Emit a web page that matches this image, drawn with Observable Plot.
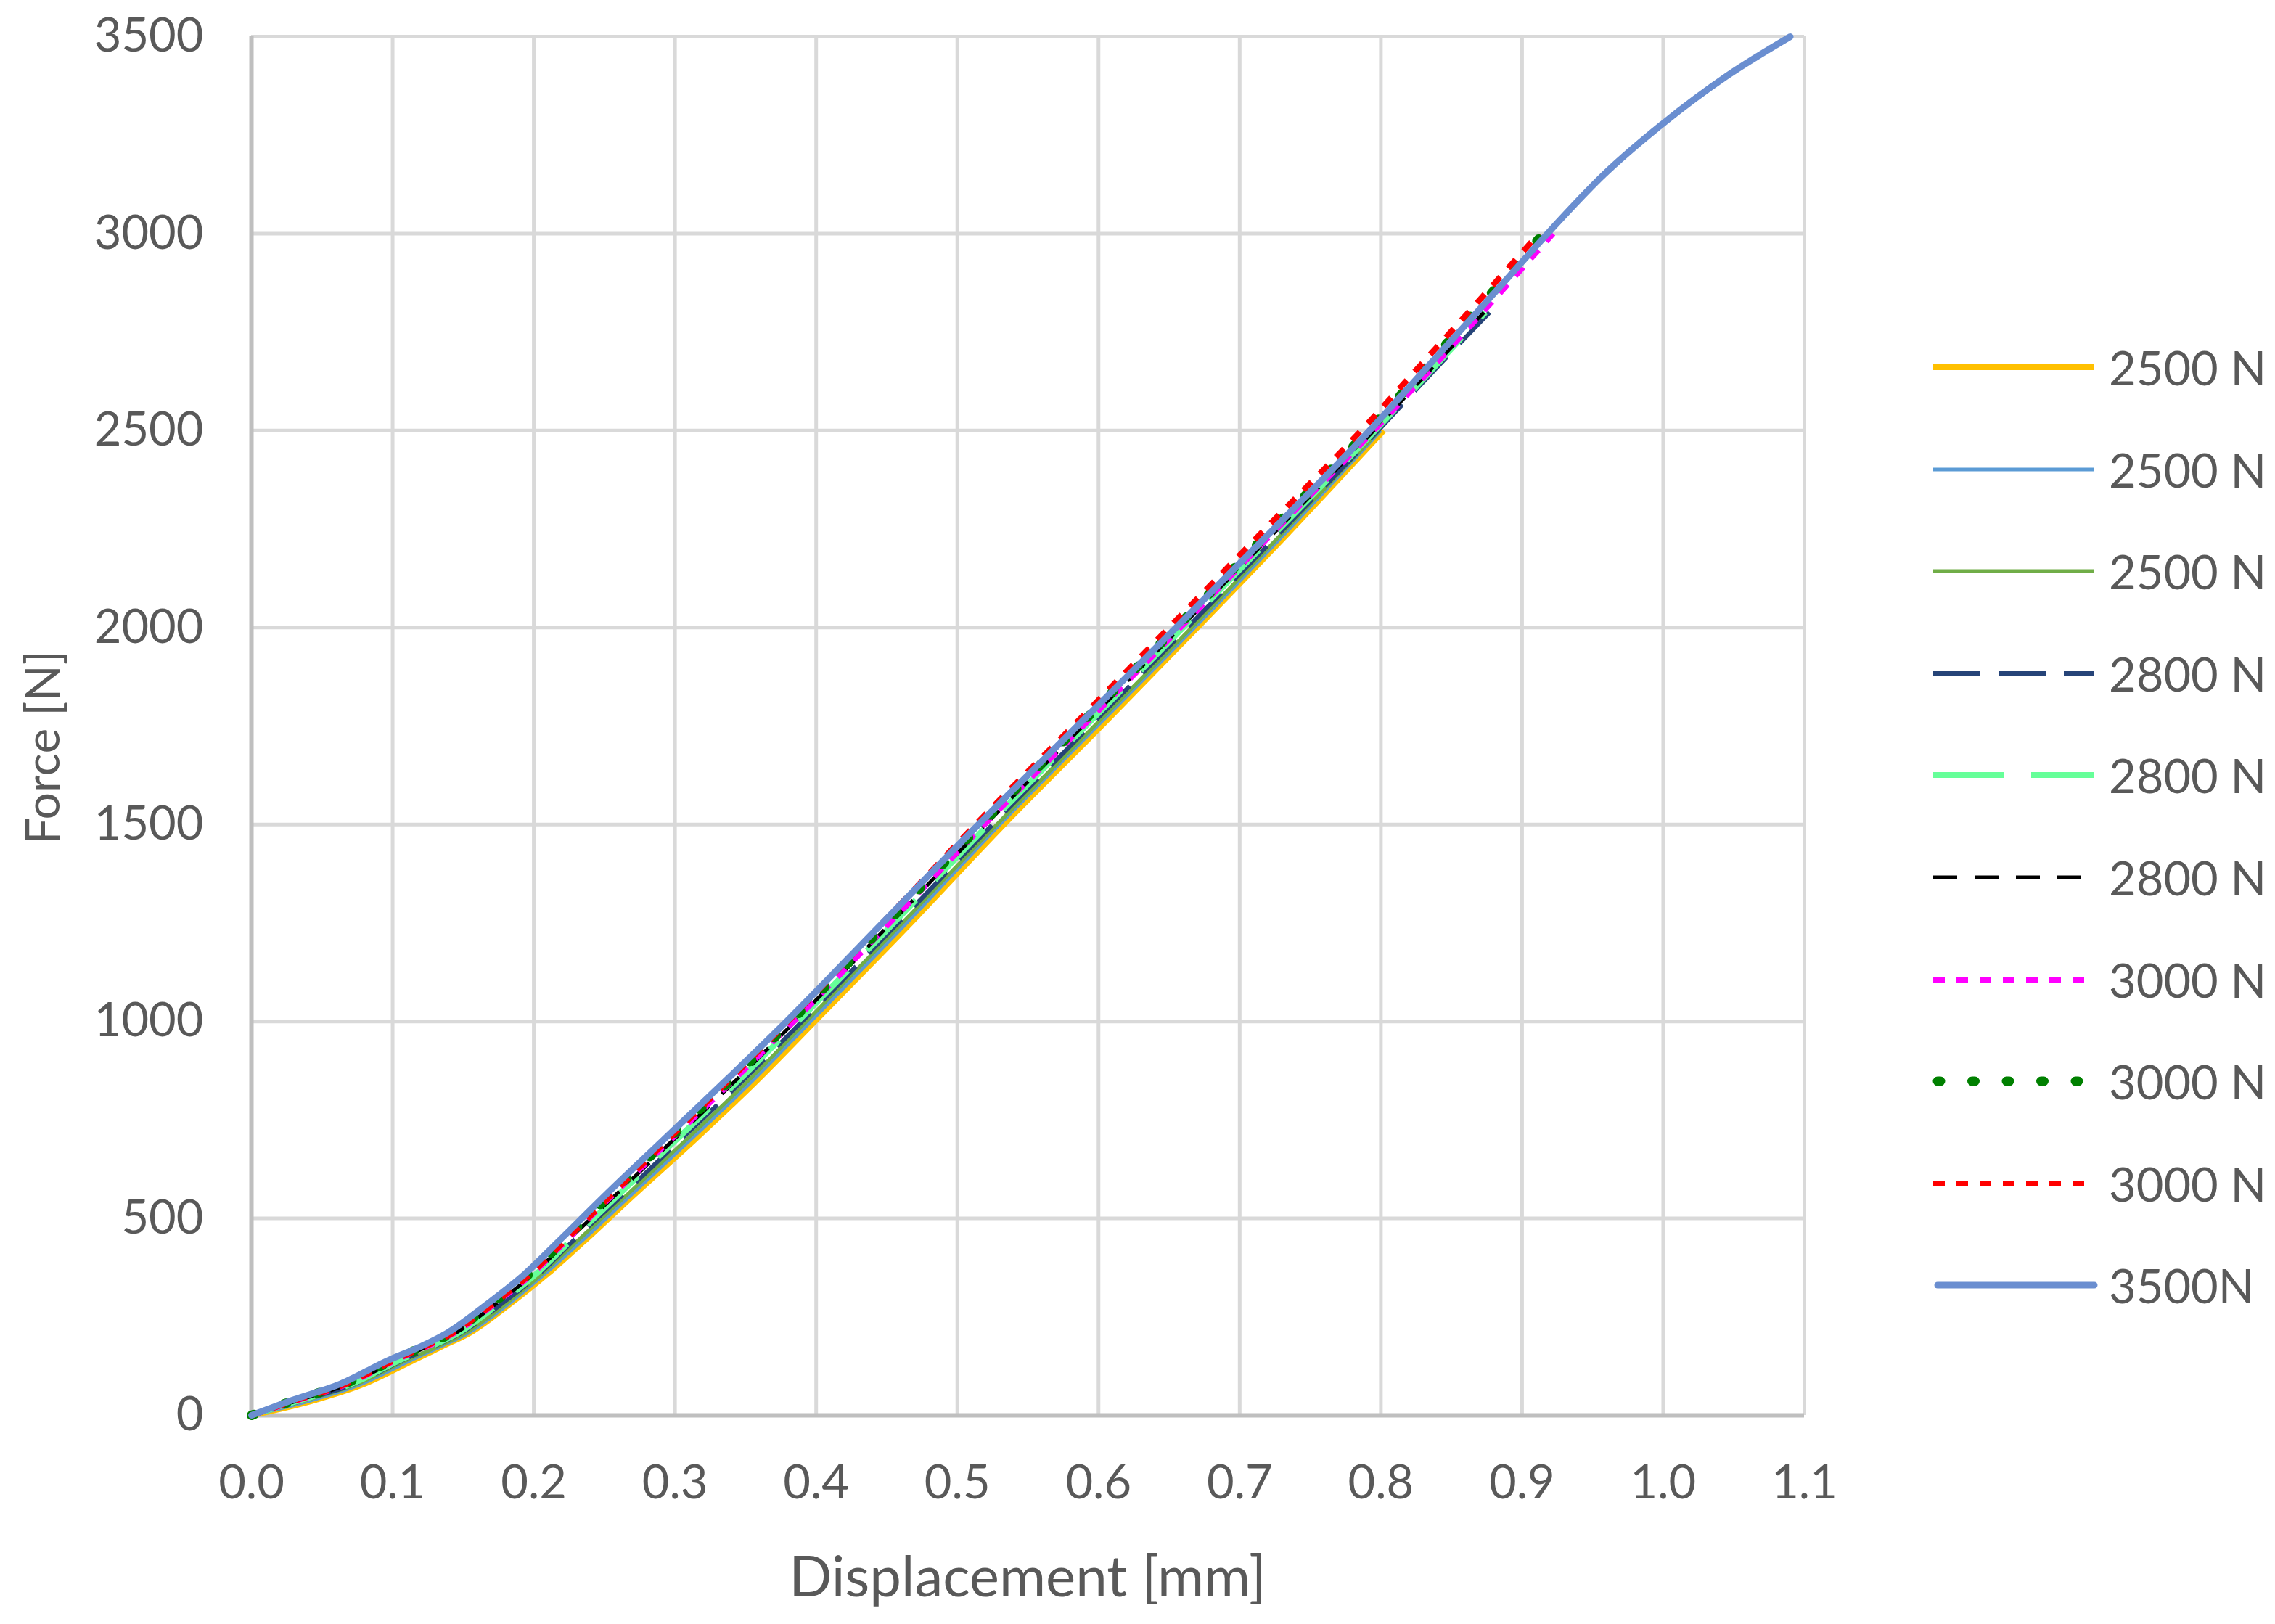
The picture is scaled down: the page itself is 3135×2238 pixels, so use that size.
<!DOCTYPE html>
<html><head><meta charset="utf-8">
<script src="https://cdn.jsdelivr.net/npm/d3@7"></script>
<script src="https://cdn.jsdelivr.net/npm/@observablehq/plot@0.6"></script>
<style>
body{margin:0;background:#fff;}
#wrap{position:relative;width:3135px;height:2238px;font-family:Lato,"Open Sans",sans-serif;color:#595959;background:#fff;overflow:hidden;}
#wrap svg.plot{position:absolute;left:0;top:0;}
.title{position:absolute;white-space:nowrap;color:#595959;}
.leg{position:absolute;left:2660px;height:40px;width:460px;}
.leg svg{position:absolute;left:0;top:0;}
.leg span{position:absolute;left:246px;top:-19px;font-size:65px;line-height:78px;color:#595959;white-space:nowrap;}
</style></head><body><div id="wrap"></div>
<script>
const forceLevels = [0, 40, 80, 140, 175, 210, 280, 360, 440, 560, 700, 850, 1000, 1250, 1500, 1750, 2000, 2250, 2500, 2650, 2800, 2900, 3000, 3150, 3280, 3400, 3500];

const disp2500a = [0, .046, .080, .115, .135, .155, .182, .210, .235, .271, .314, .358, .399, .467, .533, .602, .670, .737, .802];
const disp2500b = [0, .044, .078, .113, .134, .154, .181, .208, .233, .269, .311, .355, .396, .464, .530, .599, .668, .735, .800];
const disp2500c = [0, .040, .075, .110, .132, .152, .179, .206, .230, .266, .308, .352, .393, .461, .528, .597, .666, .733, .799];
const disp2800a = [0, .038, .073, .107, .129, .149, .176, .204, .227, .263, .304, .348, .390, .458, .525, .594, .663, .731, .798, .837, .877];
const disp2800b = [0, .036, .071, .105, .127, .147, .174, .202, .225, .260, .301, .345, .387, .455, .522, .591, .660, .728, .796, .835, .874];
const disp2800c = [0, .035, .069, .103, .125, .145, .172, .200, .223, .258, .299, .343, .385, .453, .520, .589, .658, .727, .795, .834, .873];
const disp3000a = [0, .034, .068, .102, .124, .144, .171, .199, .222, .256, .297, .341, .384, .452, .519, .589, .658, .726, .795, .834, .872, .897, .922];
const disp3000b = [0, .032, .066, .100, .122, .142, .169, .197, .220, .254, .295, .339, .382, .450, .517, .586, .655, .723, .791, .829, .866, .891, .915];
const disp3000c = [0, .033, .067, .101, .123, .143, .170, .198, .221, .255, .295, .338, .380, .447, .513, .582, .650, .718, .786, .824, .862, .887, .912];
const disp3500  = [0, .030, .063, .097, .120, .139, .166, .194, .217, .251, .292, .336, .379, .447, .515, .585, .655, .724, .792, .830, .868, .893, .918, .958, 1.000, 1.045, 1.090];

const seriesNames = ["2500 N", "2500 N", "2500 N", "2800 N", "2800 N", "2800 N", "3000 N", "3000 N", "3000 N", "3500N"];
const seriesDisp = [disp2500a, disp2500b, disp2500c, disp2800a, disp2800b, disp2800c, disp3000a, disp3000b, disp3000c, disp3500];

const xTicks = [0, 0.1, 0.2, 0.3, 0.4, 0.5, 0.6, 0.7, 0.8, 0.9, 1.0, 1.1];
const yTicks = [0, 500, 1000, 1500, 2000, 2500, 3000, 3500];

// Styles (kept apart from data)
const styles = [
  {color: "#FFC000", width: 8, dash: null, cap: "butt"},
  {color: "#5B9BD5", width: 5, dash: null, cap: "butt"},
  {color: "#70AD47", width: 5, dash: null, cap: "butt"},
  {color: "#264478", width: 6, dash: "65,25", cap: "butt"},
  {color: "#66FF99", width: 8, dash: "97,38", cap: "butt"},
  {color: "#000000", width: 5, dash: "33,24", cap: "butt"},
  {color: "#FF00FF", width: 8, dash: "16,16", cap: "butt"},
  {color: "#008000", width: 13, dash: "4,43.5", cap: "round"},
  {color: "#FF0000", width: 8, dash: "16,16", cap: "butt"},
  {color: "#6A8ED0", width: 9, dash: null, cap: "round"}
];

const tables = seriesDisp.map((arr, i) => arr.map((d, j) => ({series: i, disp: d, force: forceLevels[j]})));

const lineMarks = tables.map((t, i) => Plot.line(t, {
  x: "disp", y: "force", curve: "monotone-x",
  stroke: styles[i].color, strokeWidth: styles[i].width,
  strokeDasharray: styles[i].dash, strokeLinecap: styles[i].cap, strokeLinejoin: "round"
}));

const chart = Plot.plot({
  width: 3135, height: 2238,
  marginLeft: 346, marginRight: 649, marginTop: 50, marginBottom: 288,
  style: {fontFamily: "Lato, 'Open Sans', sans-serif", fontSize: "65px", color: "#595959", background: "transparent", overflow: "visible"},
  x: {domain: [0, 1.1]},
  y: {domain: [0, 3500]},
  marks: [
    Plot.gridX(xTicks, {stroke: "#d9d9d9", strokeOpacity: 1, strokeWidth: 5}),
    Plot.gridY(yTicks, {stroke: "#d9d9d9", strokeOpacity: 1, strokeWidth: 5}),
    Plot.axisX(xTicks, {tickSize: 0, tickPadding: 68, label: null, tickFormat: d3.format(".1f"), color: "#595959", fontSize: 65}),
    Plot.axisY(yTicks, {tickSize: 0, tickPadding: 66, label: null, tickFormat: d => String(d), color: "#595959", fontSize: 65}),
    Plot.ruleX([0], {stroke: "#bfbfbf", strokeWidth: 6}),
    Plot.ruleY([0], {stroke: "#bfbfbf", strokeWidth: 6}),
    ...lineMarks
  ]
});
chart.classList.add("plot");
const wrap = document.getElementById("wrap");
wrap.appendChild(chart);

// Axis titles
const xt = document.createElement("div");
xt.className = "title";
xt.textContent = "Displacement [mm]";
xt.style.cssText += "left:1416px;top:2170px;font-size:78px;transform:translate(-50%,-50%);";
wrap.appendChild(xt);
const yt = document.createElement("div");
yt.className = "title";
yt.textContent = "Force [N]";
yt.style.cssText += "left:56px;top:1030px;font-size:66px;transform:translate(-50%,-50%) rotate(-90deg);";
wrap.appendChild(yt);

// Legend
const ns = "http://www.w3.org/2000/svg";
seriesNames.forEach((name, i) => {
  const row = document.createElement("div");
  row.className = "leg";
  row.style.top = (506 + i * 140.6 - 20) + "px";
  const s = document.createElementNS(ns, "svg");
  s.setAttribute("width", 240); s.setAttribute("height", 40);
  const ln = document.createElementNS(ns, "line");
  const st = styles[i];
  const x1 = st.cap === "round" ? 10 : 4;
  ln.setAttribute("x1", x1); ln.setAttribute("x2", 226);
  ln.setAttribute("y1", 20); ln.setAttribute("y2", 20);
  ln.setAttribute("stroke", st.color); ln.setAttribute("stroke-width", st.width);
  if (st.dash) ln.setAttribute("stroke-dasharray", st.dash);
  ln.setAttribute("stroke-linecap", st.cap);
  s.appendChild(ln);
  row.appendChild(s);
  const sp = document.createElement("span");
  sp.textContent = name;
  row.appendChild(sp);
  wrap.appendChild(row);
});
</script>
</body></html>
